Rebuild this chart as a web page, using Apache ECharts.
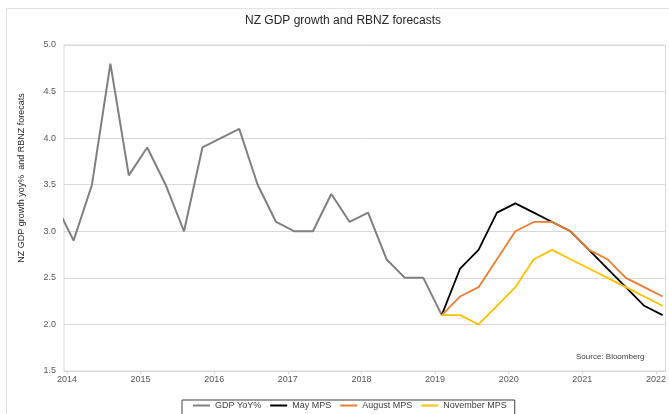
<!DOCTYPE html>
<html>
<head>
<meta charset="utf-8">
<title>NZ GDP growth and RBNZ forecasts</title>
<script src="https://cdn.jsdelivr.net/npm/echarts@6/dist/echarts.min.js"></script>
<style>
  html, body { margin: 0; padding: 0; background: #fff; }
  #chart { width: 669px; height: 414px; }
</style>
</head>
<body>
<div id="chart"></div>
<script>
// 数据：季度与数值
const gdpQuarters = ['2013Q4', '2014Q1', '2014Q2', '2014Q3', '2014Q4', '2015Q1', '2015Q2', '2015Q3',
  '2015Q4', '2016Q1', '2016Q2', '2016Q3', '2016Q4', '2017Q1', '2017Q2', '2017Q3', '2017Q4',
  '2018Q1', '2018Q2', '2018Q3', '2018Q4', '2019Q1'];
const gdpValues = [3.3, 2.9, 3.5, 4.8, 3.6, 3.9, 3.5, 3.0, 3.9, 4.0, 4.1, 3.5, 3.1, 3.0, 3.0, 3.4,
  3.1, 3.2, 2.7, 2.5, 2.5, 2.1];

const forecastQuarters = ['2019Q1', '2019Q2', '2019Q3', '2019Q4', '2020Q1', '2020Q2', '2020Q3',
  '2020Q4', '2021Q1', '2021Q2', '2021Q3', '2021Q4', '2022Q1'];
const mayValues = [2.1, 2.6, 2.8, 3.2, 3.3, 3.2, 3.1, 3.0, 2.8, 2.6, 2.4, 2.2, 2.1];
const augustValues = [2.1, 2.3, 2.4, 2.7, 3.0, 3.1, 3.1, 3.0, 2.8, 2.7, 2.5, 2.4, 2.3];
const novemberValues = [2.1, 2.1, 2.0, 2.2, 2.4, 2.7, 2.8, 2.7, 2.6, 2.5, 2.4, 2.3, 2.2];

const yearLabels = [2014, 2015, 2016, 2017, 2018, 2019, 2020, 2021, 2022];
const seriesNames = ['GDP YoY%', 'May MPS', 'August MPS', 'November MPS'];
const seriesColors = ['#808080', '#000000', '#ed7d31', '#ffc000'];

const FONT = 'Liberation Sans, Arial, sans-serif';

// 季度 -> 年份小数（Excel 日期轴上的点位）
function quarterToX(q) {
  const year = parseInt(q.slice(0, 4), 10);
  const n = parseInt(q.slice(5), 10);
  return year + (n - 1) * 0.25 + 0.09;
}

function pairs(quarters, values) {
  return quarters.map((q, i) => [quarterToX(q), values[i]]);
}

const chart = echarts.init(document.getElementById('chart'));

function lineSeries(name, data, idx, width) {
  return {
    name: name,
    type: 'line',
    data: data,
    symbol: 'none',
    showSymbol: false,
    clip: true,
    lineStyle: { color: seriesColors[idx], width: width },
    itemStyle: { color: seriesColors[idx] },
    emphasis: { disabled: true }
  };
}

const option = {
  animation: false,
  title: {
    text: 'NZ GDP growth and RBNZ forecasts',
    left: 245,
    top: 15,
    padding: 0,
    textStyle: { fontFamily: FONT, fontSize: 12, fontWeight: 'normal', color: '#262626' }
  },
  legend: {
    data: seriesNames,
    left: 182,
    top: 400,
    padding: [1, 8, 10, 11],
    borderColor: '#404040',
    borderWidth: 1,
    icon: 'rect',
    itemWidth: 17,
    itemHeight: 2,
    itemGap: 9,
    textStyle: { fontFamily: FONT, fontSize: 9, color: '#404040' }
  },
  grid: {
    left: 64,
    right: 2,
    top: 45,
    bottom: 43,
    show: true,
    borderColor: '#d9d9d9',
    borderWidth: 1
  },
  xAxis: {
    type: 'value',
    min: 2013.96,
    max: 2022.13,
    splitLine: { show: false },
    axisLine: { show: true, lineStyle: { color: '#d9d9d9' } },
    axisTick: { show: true, customValues: yearLabels, length: 3, lineStyle: { color: '#d9d9d9' } },
    axisLabel: {
      customValues: yearLabels,
      margin: 4,
      fontFamily: FONT,
      fontSize: 9,
      color: '#595959',
      formatter: v => String(Math.round(v))
    }
  },
  yAxis: {
    type: 'value',
    min: 1.5,
    max: 5,
    interval: 0.5,
    axisLine: { show: false },
    axisTick: { show: false },
    splitLine: { lineStyle: { color: '#d9d9d9' } },
    axisLabel: {
      margin: 8,
      fontFamily: FONT,
      fontSize: 9,
      color: '#595959',
      formatter: v => v.toFixed(1)
    }
  },
  graphic: [
    {
      type: 'rect',
      silent: true,
      shape: { x: 6.5, y: 8.5, width: 700, height: 500 },
      style: { fill: 'none', stroke: '#e3e3e3', lineWidth: 1 },
      z: -10
    },
    {
      type: 'text',
      x: 22,
      y: 178,
      rotation: Math.PI / 2,
      style: {
        text: 'NZ GDP growth yoy%  and RBNZ forecats',
        fontFamily: FONT,
        fontSize: 9,
        fill: '#262626',
        textAlign: 'center',
        textVerticalAlign: 'middle'
      }
    },
    {
      type: 'text',
      x: 576,
      y: 357,
      style: {
        text: 'Source: Bloomberg',
        fontFamily: FONT,
        fontSize: 8,
        fill: '#404040',
        textAlign: 'left',
        textVerticalAlign: 'middle'
      }
    }
  ],
  series: [
    lineSeries(seriesNames[0], pairs(gdpQuarters, gdpValues), 0, 2),
    lineSeries(seriesNames[1], pairs(forecastQuarters, mayValues), 1, 1.8),
    lineSeries(seriesNames[2], pairs(forecastQuarters, augustValues), 2, 1.8),
    lineSeries(seriesNames[3], pairs(forecastQuarters, novemberValues), 3, 1.8)
  ]
};

chart.setOption(option);

window.addEventListener('resize', function() {
  chart.resize();
});
</script>
</body>
</html>
